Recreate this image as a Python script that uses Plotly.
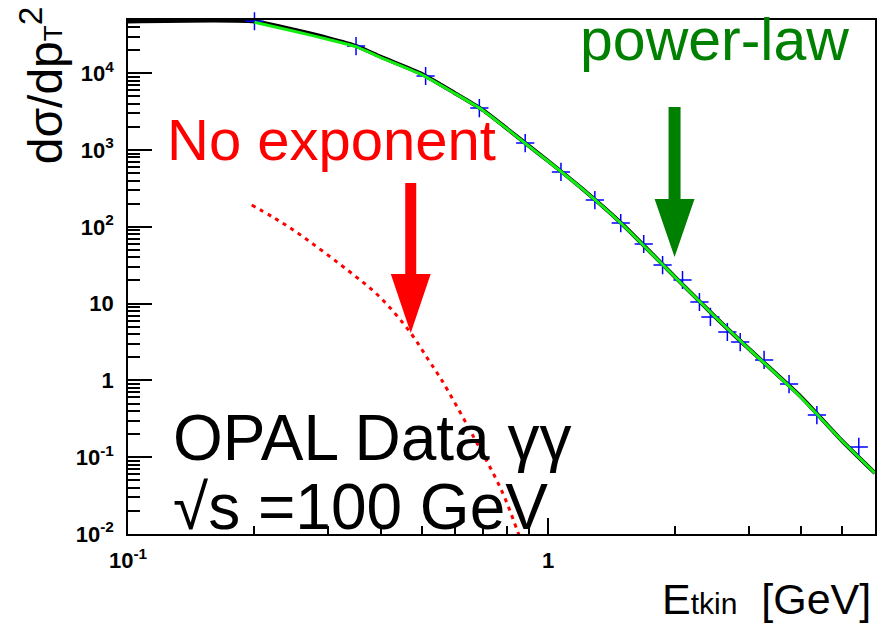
import math
import plotly.graph_objects as go

# ---------------- data ----------------
data_x = [0.200, 0.349, 0.511, 0.686, 0.882, 1.073, 1.292, 1.489, 1.689, 1.873,
          2.089, 2.292, 2.434, 2.671, 2.866, 3.267, 3.746, 4.363, 5.49]
data_y = [4.75e4, 2.26e4, 9.2e3, 3.52e3, 1.23e3, 518, 223, 112, 59.7, 31.8,
          20.3, 10.5, 6.7, 4.27, 3.16, 1.85, 0.897, 0.354, 0.136]

fit_x = [0.1, 0.2, 0.25, 0.3, 0.35, 0.4, 0.5, 0.6, 0.7, 0.8, 0.9, 1.0,
         1.2, 1.5, 2.0, 2.5, 3.0, 4.0, 5.0, 6.0]
fit_y = [4.73e4, 4.73e4, 3.65e4, 2.87e4, 2.26e4, 1.63e4, 9.8e3, 5.5e3, 3.3e3,
         1.88e3, 1.13e3, 720, 320, 109, 22.5, 6.7, 2.6, 0.61, 0.165, 0.062]

pl_x = [0.2, 0.25, 0.3, 0.35, 0.4, 0.5, 0.6, 0.7, 0.8, 0.9, 1.0,
        1.2, 1.5, 2.0, 2.5, 3.0, 4.0, 5.0, 6.0]
pl_y = [4.6e4, 3.5e4, 2.75e4, 2.2e4, 1.6e4, 9.6e3, 5.45e3, 3.28e3, 1.87e3,
        1.12e3, 715, 318, 108, 22.4, 6.7, 2.6, 0.6, 0.165, 0.062]

noexp_x = [0.197, 0.221, 0.2515, 0.345, 0.40, 0.471, 0.519, 0.558, 0.657, 0.774, 0.849, 0.88]
noexp_y = [192, 134, 85.5, 23.5, 11.8, 4.14, 1.85, 1.01, 0.207, 0.0374, 0.0103, 0.006]

x_tickvals = [0.1, 1]
x_ticktext = ["10<sup>-1</sup>", "1"]
y_tickvals = [1e-2, 1e-1, 1, 10, 100, 1e3, 1e4]
y_ticktext = ["10<sup>-2</sup>", "10<sup>-1</sup>", "1", "10",
              "10<sup>2</sup>", "10<sup>3</sup>", "10<sup>4</sup>"]

# arrow tips (data coords)
red_tip = (0.471, 4.14)
green_tip = (2.0, 40.4)

# ---------------- layout geometry ----------------
W, H = 889, 626
ML, MR, MT, MB = 128, 12, 20, 92
PW, PH = W - ML - MR, H - MT - MB
XR = [-1, math.log10(6.0)]
YR = [-2, 4.693]
FONT = "Liberation Sans, Arial, sans-serif"

x_minor = [m * 10 ** e for e in (-1, 0) for m in range(2, 10) if m * 10 ** e < 6.0]
y_minor = [m * 10 ** e for e in range(-2, 5) for m in range(2, 10)]

fig = go.Figure()

fig.add_trace(go.Scatter(x=fit_x, y=fit_y, mode="lines",
                         line=dict(color="black", width=4, shape="spline", smoothing=0.6),
                         showlegend=False, hoverinfo="skip"))
fig.add_trace(go.Scatter(x=data_x, y=data_y, mode="markers", cliponaxis=False,
                         marker=dict(symbol="cross-thin-open", size=13, color="#0000ff",
                                     line=dict(color="#0000ff", width=1.5)),
                         showlegend=False))
fig.add_trace(go.Scatter(x=pl_x, y=pl_y, mode="lines",
                         line=dict(color="#11ee11", width=3, shape="spline", smoothing=0.6),
                         showlegend=False, hoverinfo="skip"))
fig.add_trace(go.Scatter(x=noexp_x, y=noexp_y, mode="lines",
                         line=dict(color="#ff0000", width=3, dash="4px,5px", shape="spline"),
                         showlegend=False))


def to_paper(x, y):
    return ((math.log10(x) - XR[0]) / (XR[1] - XR[0]), (math.log10(y) - YR[0]) / (YR[1] - YR[0]))


def arrow_path(tip, length, head_len, head_half, shaft_half):
    px, py = to_paper(*tip)
    dx = lambda p: p / PW
    dy = lambda p: p / PH
    pts = [
        (px, py),
        (px - dx(head_half), py + dy(head_len)),
        (px - dx(shaft_half), py + dy(head_len)),
        (px - dx(shaft_half), py + dy(length)),
        (px + dx(shaft_half), py + dy(length)),
        (px + dx(shaft_half), py + dy(head_len)),
        (px + dx(head_half), py + dy(head_len)),
    ]
    return "M " + " L ".join(f"{a:.5f},{b:.5f}" for a, b in pts) + " Z"


shapes = [
    dict(type="path", xref="paper", yref="paper", path=arrow_path(red_tip, 150, 59, 20, 5.5),
         fillcolor="#ff0000", line=dict(width=0)),
    dict(type="path", xref="paper", yref="paper", path=arrow_path(green_tip, 150, 58, 20, 6),
         fillcolor="#008000", line=dict(width=0)),
]


def py2paper(pix):
    return (H - MB - pix) / PH


def px2paper(pix):
    return (pix - ML) / PW


annotations = [
    dict(text="power-law", xref="paper", yref="paper", x=px2paper(716), y=py2paper(5),
         xanchor="center", yanchor="top",
         showarrow=False, font=dict(family=FONT, size=59, color="#008000")),
    dict(text="No exponent", xref="paper", yref="paper", x=px2paper(332), y=py2paper(105),
         xanchor="center", yanchor="top",
         showarrow=False, font=dict(family=FONT, size=58, color="#ff0000")),
    dict(text="OPAL Data γγ", xref="paper", yref="paper", x=px2paper(171), y=py2paper(400),
         xanchor="left", yanchor="top", showarrow=False, font=dict(family=FONT, size=64, color="black")),
    dict(text="√s =100 GeV", xref="paper", yref="paper", x=px2paper(171), y=py2paper(469),
         xanchor="left", yanchor="top", showarrow=False, font=dict(family=FONT, size=64, color="black")),
    dict(text="E<span style='font-size:30px'>tkin</span>\u00a0\u00a0[GeV]", xref="paper", yref="paper",
         x=px2paper(875), y=py2paper(625), xanchor="right", yanchor="bottom",
         showarrow=False, font=dict(family=FONT, size=43, color="black")),
    dict(text="dσ/dp<span style='font-size:26px'>T</span><sup>2</sup>", xref="paper", yref="paper",
         x=px2paper(42), y=py2paper(4), xanchor="center", yanchor="top", textangle=-90,
         showarrow=False, font=dict(family=FONT, size=48, color="black")),
]

axis_common = dict(
    type="log", showgrid=False, zeroline=False, showline=True, linecolor="black", linewidth=1.5,
    mirror=True, ticks="inside", tickcolor="black", tickwidth=1.5,
    tickfont=dict(family=FONT, size=22, color="black", weight="bold"),
)

fig.update_layout(
    width=W, height=H,
    margin=dict(l=ML, r=MR, t=MT, b=MB),
    paper_bgcolor="white", plot_bgcolor="white",
    shapes=shapes, annotations=annotations,
    xaxis=dict(axis_common, range=XR, tickmode="array", tickvals=x_tickvals, ticktext=x_ticktext,
               ticklen=16, ticklabelstandoff=6,
               minor=dict(tickmode="array", tickvals=x_minor, ticks="inside", ticklen=8,
                          tickcolor="black", tickwidth=1.5, showgrid=False)),
    yaxis=dict(axis_common, range=YR, tickmode="array", tickvals=y_tickvals, ticktext=y_ticktext,
               ticklen=24, ticklabelstandoff=8,
               minor=dict(tickmode="array", tickvals=y_minor, ticks="inside", ticklen=12,
                          tickcolor="black", tickwidth=1.5, showgrid=False)),
)

fig.write_html("out.html")
